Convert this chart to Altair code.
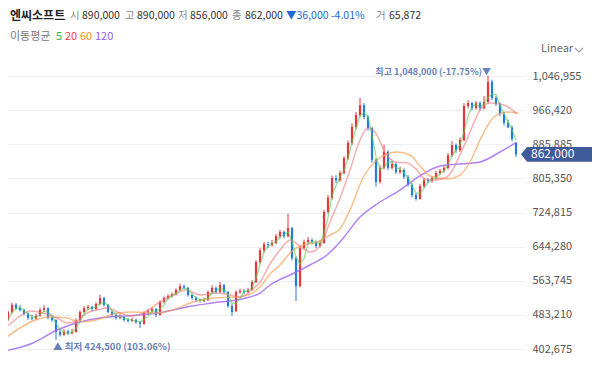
import altair as alt
import pandas as pd

FONT = "Noto Sans CJK KR"
RED = "#ea343c"
BLUE = "#2479e3"

# ---- candle data (thousand KRW) ----
opens = [462,450,471,490,507,500,495,486,476,474,
         481,495,499,477,471,443,436,444,440,443,
         471,490,499,502,497,509,523,507,490,483,
         476,478,471,469,472,466,462,488,492,497,
         483,514,523,528,532,542,551,547,530,523,
         518,516,518,537,547,537,554,537,504,492,
         537,540,537,542,561,608,636,650,648,653,
         669,679,669,688,617,551,641,655,660,655,
         646,653,726,759,806,801,818,853,889,927,
         955,978,950,924,849,797,830,868,830,839,
         820,825,809,790,766,757,787,801,799,806,
         818,823,830,860,884,872,896,976,983,971,
         983,971,986,1033,995,981,957,936,925,890]
highs = [466,474,494,512,511,506,498,489,483,486,
         500,506,501,482,473,447,449,448,450,475,
         494,504,507,505,513,531,526,509,494,486,
         485,480,476,477,474,469,491,497,501,499,
         517,527,532,536,546,557,555,549,533,527,
         522,524,541,553,550,561,556,540,509,541,
         545,544,547,565,612,641,655,656,660,674,
         684,682,722,691,621,646,661,667,664,659,
         658,731,766,812,813,824,858,895,935,962,
         995,983,955,927,853,836,885,872,846,843,
         833,829,813,794,771,792,806,806,811,823,
         828,836,865,893,888,902,983,990,986,988,
         987,1000,1048,1038,1000,985,962,944,930,890]
lows = [448,447,468,486,495,491,482,472,470,472,
        479,490,473,467,424.5,432,434,436,437,441,
        468,487,495,492,494,506,503,487,480,472,
        473,467,465,466,462,452,460,484,489,478,
        481,510,519,524,529,539,543,526,519,514,
        512,513,516,534,533,535,533,500,481,490,
        533,532,534,540,558,604,630,641,644,650,
        664,664,666,612,516,548,637,650,650,641,
        642,651,722,755,795,797,815,849,885,922,
        950,945,918,843,786,793,826,825,826,815,
        816,804,786,761,753,755,783,794,795,802,
        814,819,826,856,866,868,893,970,966,968,
        965,968,982,990,976,952,930,929,893,856]
closes = [452,471,490,507,499,495,485,476,474,481,
          495,499,476,471,443,436,443,440,443,471,
          490,499,502,497,509,523,507,490,483,476,
          478,471,469,472,466,462,488,492,497,483,
          514,523,528,532,542,551,547,530,523,518,
          516,518,537,547,537,554,537,504,490,537,
          540,537,542,561,608,636,650,648,653,669,
          679,669,688,617,551,641,655,660,655,646,
          653,726,759,806,801,818,853,889,927,955,
          978,950,924,849,797,830,868,830,839,820,
          825,809,790,766,757,787,801,799,806,818,
          823,830,860,884,872,896,976,983,971,983,
          971,986,1033,995,981,957,936,925,898,862]

# ---- moving averages (index, thousand KRW) ----
ma20_i = [0,2.5,5,7.5,10.75,14.25,16.75,19.25,21.75,24.25,26.75,30,33.25,35.75,40,43.25,46.75,50,
          54.25,57.5,60,63.25,65,67.5,70,72.5,75,77.5,80,82.5,85,87.5,90,92,93.75,96.25,98.75,
          101.75,104.25,106.25,108.75,111.75,115,117.5,120,122.5,125,127.5,129.25]
ma20_v = [447.5,461.7,480.6,492.4,487.6,475.8,464,468.8,487.6,494.7,499.4,487.6,480.6,487.6,513.6,
          530.1,541.9,530.1,534.8,530.1,525.4,544.3,560.8,603.3,636.3,659.9,645.8,631.6,645.8,702.4,
          759,825.1,895.9,924.2,914.8,867.6,844,841.6,825.1,803.9,801.5,808.6,860.5,914.8,966.7,
          983.2,980.9,971.4,957.3]
ma60_i = [0,5,8.25,12.5,16.75,20,25,29.25,33.25,39.25,43.25,48.25,53.25,58.75,62,65,67.5,70,72.5,
          75,79.25,82.5,85,87.5,90.75,94.25,99.25,102.5,105,107.5,111.75,115,117.5,120,123.25,
          126.75,129.5]
ma60_v = [419.2,452.2,468.8,478.2,475.8,466.4,473.5,487.6,490,487.6,494.7,513.6,523,525.4,530.1,
          549,579.7,600.9,629.2,645.8,655.2,671.7,685.9,730.7,806.2,848.7,867.6,860.5,834.6,811,
          803.9,813.3,844,895.9,947.8,962,959.6]
ma120_i = [0,8.25,14.25,20,25,31.25,39.5,48,53,60.5,65,67.5,72.5,77.5,81.75,85,90,95,100,105,
           110,115,120,125,128.75]
ma120_v = [395.6,416.8,447.5,466.4,475.8,480.6,487.6,504.2,511.2,520.7,534.8,553.7,577.3,600.9,
           624.5,655.2,714.2,749.6,777.9,811,834.6,839.3,844,867.6,888.8]

TICKS = [402675, 483210, 563745, 644280, 724815, 805350, 885885, 966420, 1046955]

HEADER = [("엔씨소프트", "#222222", "bold", 12), ("시", "#8a8a8a", "normal", 10.5), ("890,000", "#333333", "normal", 10.5),
          ("고", "#8a8a8a", "normal", 10.5), ("890,000", "#333333", "normal", 10.5),
          ("저", "#8a8a8a", "normal", 10.5), ("856,000", "#333333", "normal", 10.5),
          ("종", "#8a8a8a", "normal", 10.5), ("862,000", "#333333", "normal", 10.5),
          ("▼36,000 -4.01%", "#1f66d6", "normal", 10.5),
          ("거", "#8a8a8a", "normal", 10.5), ("65,872", "#333333", "normal", 10.5)]
HEADER_X = [2, 62, 74, 117, 129, 170, 182, 224, 237, 278, 368, 381]
MA_LEGEND = [("이동평균", "#777777"), ("5", "#2fb83a"), ("20", "#f03c3c"), ("60", "#f5902c"), ("120", "#8f5cf6")]
MA_LEGEND_X = [2, 48, 57, 72, 87]

df = pd.DataFrame({"i": list(range(len(closes))),
                   "o": [v * 1000 for v in opens], "h": [v * 1000 for v in highs],
                   "l": [v * 1000 for v in lows], "c": [v * 1000 for v in closes]})
df["dir"] = ["up" if c >= o else "down" for o, c in zip(df.o, df.c)]

W, H = 517, 295
xs = alt.X("i:Q", scale=alt.Scale(domain=[2, 131.25], range=[0, W], nice=False, zero=False, padding=0), axis=None)
ys = alt.Scale(domain=[383795, 1079995], range=[H, 0], nice=False, zero=False, padding=0)
yax = alt.Axis(orient="right", values=TICKS, format=",d", grid=True, gridColor="#efefef",
               ticks=False, domain=False, labelColor="#555555", labelFontSize=11,
               labelPadding=7, labelFont=FONT, title=None)
color = alt.Color("dir:N", scale=alt.Scale(domain=["up", "down"], range=[RED, BLUE]), legend=None)


def Y(field):
    return alt.Y(field, scale=ys, axis=yax)


base = alt.Chart(df)
wick = base.mark_rule(strokeWidth=1, clip=True).encode(x=xs, y=Y("l:Q"), y2="h:Q", color=color)
body = base.mark_bar(size=2.2, clip=True).encode(x=xs, y=Y("o:Q"), y2="c:Q", color=color)


def ma_line(ii, vv, col, op, w=1.5):
    d = pd.DataFrame({"i": ii, "v": [v * 1000 for v in vv]})
    return alt.Chart(d).mark_line(color=col, opacity=op, strokeWidth=w, interpolate="monotone", clip=True).encode(
        x=xs, y=Y("v:Q"))


ma120 = ma_line(ma120_i, ma120_v, "#a56cf7", 0.85)
ma60 = ma_line(ma60_i, ma60_v, "#f7a25a", 0.7)
ma20 = ma_line(ma20_i, ma20_v, "#f07a7a", 0.6)
ma5 = base.transform_window(ma5="mean(c)", frame=[-2, 0], sort=[alt.SortField("i")]).mark_line(
    color="#4ccf4c", opacity=0.6, strokeWidth=1.3, clip=True).encode(x=xs, y=Y("ma5:Q"))

# high / low annotations
last_c = float(df.c.iloc[-1])
hi = df.loc[[df.h.idxmax()]].copy()
hi["t"] = [f"최고 {v:,.0f} ({(last_c - v) / v * 100:.2f}%)▼" for v in hi.h]
lo = df.loc[[df.l.idxmin()]].copy()
lo["t"] = [f"▲ 최저 {v:,.0f} ({(last_c - v) / v * 100:.2f}%)" for v in lo.l]
hi_t = alt.Chart(hi).mark_text(align="right", baseline="bottom", dx=3, dy=1, font=FONT, fontSize=9,
                               fontWeight="bold", color="#6a7fb5").encode(x=xs, y=Y("h:Q"), text="t:N")
lo_t = alt.Chart(lo).mark_text(align="left", baseline="top", dx=-3, dy=2, font=FONT, fontSize=9.5,
                               fontWeight="bold", color="#6a7fb5").encode(x=xs, y=Y("l:Q"), text="t:N")

# current price tag
last = df.iloc[[-1]].copy()
last["lab"] = [f"{v:,.0f}" for v in last.c]
TAG = "M -1 0 L -0.83 -0.211 L 1 -0.211 L 1 0.211 L -0.83 0.211 Z"
tag = alt.Chart(last).mark_point(shape=TAG, filled=True, size=71 * 71, color="#3f5a98", opacity=1, strokeWidth=0).encode(
    x=alt.value(548.5), y=Y("c:Q"))
tag_t = alt.Chart(last).mark_text(align="left", baseline="middle", font=FONT, fontSize=12, color="white").encode(
    x=alt.value(523), y=Y("c:Q"), text="lab:N")


def label(text, x, y, col, size=11, weight="normal"):
    return alt.Chart(pd.DataFrame({"t": [text]})).mark_text(
        align="left", baseline="middle", font=FONT, fontSize=size, fontWeight=weight, color=col).encode(
        x=alt.value(x), y=alt.value(y), text="t:N")


texts = [label(t, x, -46, c, s, w) for (t, c, w, s), x in zip(HEADER, HEADER_X)]
texts += [label(t, x, -25, c, 11) for (t, c), x in zip(MA_LEGEND, MA_LEGEND_X)]
texts.append(label("Linear", 533, -13, "#666666", 11))
chev = alt.Chart(pd.DataFrame({"t": [0]})).mark_point(shape="M -1 -0.5 L 0 0.5 L 1 -0.5", filled=False,
                                                       size=64, color="#777777", strokeWidth=1.2).encode(
    x=alt.value(571), y=alt.value(-12))

chart = alt.layer(wick, body, ma120, ma60, ma20, ma5, hi_t, lo_t, tag, tag_t, *texts, chev).properties(
    width=W, height=H,
    padding={"top": 54, "left": 0, "right": 67, "bottom": 0},
    autosize=alt.AutoSizeParams(type="none"),
).configure_view(stroke=None)

chart.save("out.html", embed_options={"renderer": "svg", "actions": False})
